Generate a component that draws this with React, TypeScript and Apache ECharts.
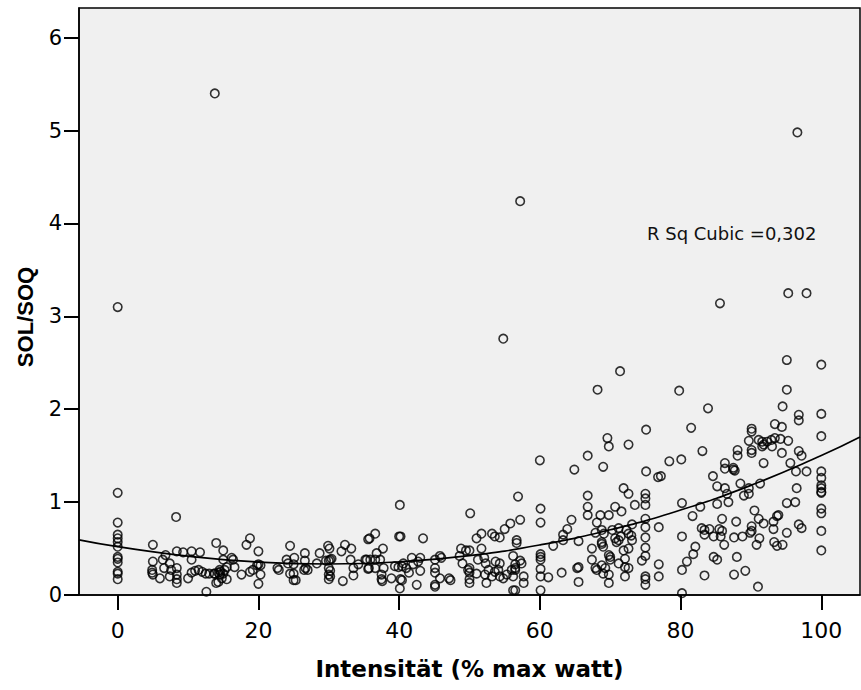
import React, { useEffect, useRef } from "react";
import * as echarts from "echarts";

// Scatter values: intensity (% max watt) and SOL/SOQ ratio
const intensity = [
  0, 0, 0, 0, 0, 0, 0, 0, 0, 0, 0, 0, 0,
  5.0, 8.3, 14.0, 12.6, 5.0, 4.9, 5.0, 4.9, 6.0, 6.4, 6.8, 6.6, 7.4, 8.4, 8.4, 8.4, 8.4, 8.4, 9.3, 10.5, 10.5, 11.7, 10.0, 10.5, 11.0, 11.5, 12.0, 12.5, 13.0, 13.7, 14.3, 14.6, 14.0, 7.6, 7.4,
  15.0, 15.0, 16.2, 16.4, 18.3, 18.8, 20.0, 20.0, 20.3, 19.8, 20.3, 20.0,
  13.8, 14.5, 14.5, 14.8, 15.0, 15.2, 15.5, 15.5, 16.6, 17.6, 18.8, 19.2, 14.3,
  22.7, 22.9, 24.0, 24.2, 24.5, 24.5, 25.0, 25.0, 25.3, 25.1, 25.0, 26.6, 26.6, 26.7, 27.0, 26.5, 28.3, 28.7, 29.9, 30.1, 29.6, 30.0, 30.2, 30.4, 30.0, 30.2, 30.0, 30.2, 30.0, 32.0, 31.8, 32.3, 33.2, 33.1, 33.5, 33.5, 34.2, 35.4, 35.6, 35.6,
  40.1, 50.1, 56.9,
  35.8, 36.6, 40.0, 40.2, 43.4, 37.7, 36.8,
  35.2, 35.9, 36.6, 37.3, 35.7, 36.6, 37.8, 37.5, 37.5, 37.6, 38.9,
  39.4, 39.9, 40.4, 40.6, 40.2, 40.4, 40.1,
  41.8, 42.0, 42.7, 43.0, 43.0, 41.4, 41.0, 42.5,
  45.1, 45.1, 45.1, 45.1, 45.1, 45.8, 46.0, 45.8, 47.1, 47.3,
  48.6, 48.8, 49.0, 49.5, 50.0, 50.0, 49.8, 50.0, 50.0, 50.0,
  51.0, 51.7, 53.2, 53.6, 54.3, 55.0, 55.8, 56.7, 57.2,
  51.7, 51.2, 52.1, 52.3, 53.7, 54.3,
  51.0, 52.2, 52.7, 53.2, 53.6, 54.1, 54.3, 54.8, 55.3, 56.0, 56.2, 56.5, 52.4, 56.2,
  60.1, 60.1, 64.5, 63.9, 63.3, 63.3, 65.5, 61.9, 56.7,
  60.1, 60.1, 60.1, 60.1, 60.1, 60.1, 61.2, 63.1, 65.3, 65.5, 65.5, 57.7, 57.7,
  56.2, 56.5, 56.5, 57.2, 57.4, 56.5,
  66.8, 66.8, 66.8, 68.6, 69.8, 71.6,
  68.1, 68.8, 69.1, 67.9, 70.3, 71.2, 71.5, 72.3, 72.6, 73.0,
  70.7, 71.9, 72.6, 73.5, 73.1,
  75.0, 75.0, 75.0, 75.0, 75.0, 75.0, 75.0, 75.0, 74.5, 75.0, 75.0, 75.0,
  76.9, 76.9, 76.9, 67.4,
  67.4, 67.9, 68.1, 68.8, 69.3, 69.0, 69.8, 70.0, 69.8, 69.8, 70.0,
  68.8, 69.0, 68.8,
  70.9, 70.7, 71.2, 71.9, 72.1, 72.6, 73.1, 72.6, 72.1, 71.2, 72.1,
  85.2, 86.3, 86.6, 88.5, 89.7, 89.7, 89.0, 91.3,
  80.2, 82.8, 85.2, 86.8, 81.7, 85.9, 87.9, 90.5, 90.1, 90.1, 89.9, 91.1, 91.8, 93.2, 93.9, 93.7, 93.2, 95.1, 96.5, 96.3, 96.8, 97.2, 95.1, 93.3, 93.7, 94.5, 91.2, 90.8,
  83.0, 83.4, 84.1, 83.4, 84.7, 85.5, 85.9, 85.7, 86.2, 87.6, 88.8,
  80.2, 82.1, 81.8, 80.9, 80.2, 80.2, 83.4, 84.7, 85.2, 88.0, 87.6, 89.2, 91.0,
  100, 100, 100, 100, 100, 100, 100, 100,
  54.8, 71.4, 68.2, 75.1, 69.6, 69.8, 72.6, 60.0, 66.8, 64.9, 69.0, 75.1, 76.8, 77.2, 78.4,
  95.1, 100, 79.8, 95.1, 83.9, 94.5, 96.8, 96.8, 100, 81.5, 93.4, 94.4, 90.1, 90.1, 89.7,
  91.1, 91.6, 91.8, 92.3, 92.9, 93.4, 94.2, 93.0, 91.6, 95.3, 100,
  88.1, 88.1, 90.1, 90.1, 83.1, 80.1, 86.3, 86.3, 87.5, 87.7, 87.5, 84.6, 91.8, 94.4, 95.6, 96.8, 97.2, 96.4, 97.9, 100, 100,
  13.8, 96.6, 57.2, 85.6, 95.3, 97.9,
];

const ratio = [
  3.10, 1.10, 0.78, 0.65, 0.61, 0.57, 0.52, 0.41, 0.39, 0.35, 0.25, 0.23, 0.17,
  0.54, 0.84, 0.56, 0.035, 0.36, 0.27, 0.22, 0.24, 0.18, 0.38, 0.43, 0.29, 0.34, 0.47, 0.29, 0.22, 0.17, 0.13, 0.46, 0.47, 0.38, 0.46, 0.18, 0.24, 0.26, 0.27, 0.25, 0.23, 0.23, 0.23, 0.24, 0.25, 0.13, 0.27, 0.20,
  0.48, 0.38, 0.40, 0.38, 0.54, 0.61, 0.47, 0.33, 0.32, 0.32, 0.22, 0.12,
  0.23, 0.27, 0.22, 0.18, 0.23, 0.27, 0.30, 0.17, 0.30, 0.22, 0.25, 0.27, 0.14,
  0.29, 0.27, 0.38, 0.34, 0.53, 0.23, 0.23, 0.16, 0.16, 0.40, 0.33, 0.45, 0.37, 0.29, 0.27, 0.27, 0.34, 0.45, 0.53, 0.50, 0.37, 0.37, 0.38, 0.39, 0.29, 0.26, 0.22, 0.20, 0.17, 0.15, 0.47, 0.54, 0.50, 0.38, 0.29, 0.21, 0.33, 0.38, 0.60, 0.28,
  0.97, 0.88, 1.06,
  0.61, 0.66, 0.63, 0.63, 0.61, 0.50, 0.45,
  0.38, 0.38, 0.38, 0.38, 0.29, 0.29, 0.29, 0.22, 0.17, 0.15, 0.18,
  0.31, 0.30, 0.31, 0.34, 0.17, 0.16, 0.07,
  0.40, 0.33, 0.36, 0.40, 0.26, 0.24, 0.29, 0.11,
  0.38, 0.29, 0.24, 0.11, 0.09, 0.42, 0.40, 0.18, 0.18, 0.16,
  0.42, 0.50, 0.34, 0.48, 0.48, 0.29, 0.27, 0.24, 0.17, 0.13,
  0.61, 0.66, 0.66, 0.63, 0.62, 0.71, 0.77, 0.56, 0.81,
  0.50, 0.38, 0.40, 0.34, 0.36, 0.34,
  0.23, 0.22, 0.27, 0.20, 0.25, 0.27, 0.20, 0.18, 0.22, 0.27, 0.20, 0.29, 0.13, 0.05,
  0.93, 0.78, 0.81, 0.71, 0.65, 0.59, 0.58, 0.53, 0.59,
  0.44, 0.41, 0.38, 0.28, 0.20, 0.05, 0.19, 0.24, 0.29, 0.30, 0.14, 0.20, 0.13,
  0.42, 0.33, 0.27, 0.37, 0.34, 0.05,
  1.07, 0.95, 0.86, 0.86, 0.86, 0.90,
  0.78, 0.70, 0.66, 0.67, 0.70, 0.72, 0.63, 0.70, 0.66, 0.64,
  0.95, 1.15, 1.09, 0.97, 0.76,
  1.09, 1.04, 0.97, 0.82, 0.73, 0.62, 0.51, 0.42, 0.37, 0.20, 0.17, 0.11,
  0.73, 0.33, 0.20, 0.50,
  0.38, 0.29, 0.27, 0.32, 0.29, 0.23, 0.43, 0.38, 0.22, 0.13, 0.41,
  0.55, 0.52, 0.57,
  0.57, 0.61, 0.59, 0.48, 0.39, 0.50, 0.59, 0.29, 0.30, 0.34, 0.20,
  1.17, 1.15, 1.09, 1.20, 1.15, 1.09, 1.07, 1.20,
  0.99, 0.95, 0.98, 1.00, 0.85, 0.82, 0.79, 0.91, 0.74, 0.69, 0.67, 0.82, 0.77, 0.79, 0.86, 0.85, 0.71, 0.99, 1.15, 1.00, 0.76, 0.72, 0.67, 0.57, 0.53, 0.54, 0.61, 0.54,
  0.72, 0.70, 0.71, 0.65, 0.63, 0.71, 0.69, 0.63, 0.54, 0.62, 0.63,
  0.63, 0.52, 0.44, 0.36, 0.27, 0.02, 0.21, 0.41, 0.38, 0.41, 0.22, 0.26, 0.09,
  1.18, 1.15, 1.11, 1.10, 0.93, 0.88, 0.69, 0.48,
  2.76, 2.41, 2.21, 1.78, 1.69, 1.60, 1.62, 1.45, 1.50, 1.35, 1.38, 1.33, 1.27, 1.28, 1.44,
  2.53, 2.48, 2.20, 2.21, 2.01, 2.03, 1.94, 1.88, 1.95, 1.80, 1.84, 1.81, 1.79, 1.76, 1.66,
  1.67, 1.65, 1.62, 1.65, 1.67, 1.69, 1.68, 1.60, 1.60, 1.66, 1.71,
  1.56, 1.50, 1.56, 1.53, 1.55, 1.46, 1.42, 1.36, 1.37, 1.34, 1.35, 1.28, 1.42, 1.53, 1.42, 1.55, 1.50, 1.33, 1.33, 1.33, 1.26,
  5.40, 4.98, 4.24, 3.14, 3.25, 3.25,
];

// Cubic fit curve
const fitX = [-5.5, 0, 10, 20, 30, 40, 50, 60, 70, 80, 90, 100, 105.5];
const fitY = [0.593, 0.52, 0.418, 0.355, 0.334, 0.357, 0.424, 0.539, 0.702, 0.915, 1.181, 1.501, 1.7];

const xTicks = [0, 20, 40, 60, 80, 100];
const yTicks = [0, 1, 2, 3, 4, 5, 6];
const xTitle = "Intensität (% max watt)";
const yTitle = "SOL/SOQ";
const fitLabel = "R Sq Cubic =0,302";

export default function App() {
  const ref = useRef<HTMLDivElement>(null);
  useEffect(() => {
    if (!ref.current) return;
    const chart = echarts.init(ref.current, undefined, { renderer: "svg" });
    const n = Math.min(intensity.length, ratio.length);
    const points: number[][] = [];
    for (let i = 0; i < n; i++) points.push([intensity[i], ratio[i]]);
    const fit = fitX.map((x, i) => [x, fitY[i]]);
    chart.setOption({
      animation: false,
      backgroundColor: "#ffffff",
      grid: {
        left: 79,
        right: 1,
        top: 8,
        bottom: 95,
        show: true,
        backgroundColor: "#f0f0f0",
        borderColor: "#000",
        borderWidth: 1.5,
      },
      xAxis: {
        type: "value",
        min: -5.5,
        max: 105.5,
        splitLine: { show: false },
        axisLine: { show: true, onZero: false, lineStyle: { color: "#000", width: 1.5 } },
        axisTick: { show: true, customValues: xTicks, length: 15, lineStyle: { color: "#000", width: 2 } },
        axisLabel: {
          customValues: xTicks,
          margin: 24,
          fontSize: 22,
          fontFamily: "DejaVu Sans",
          color: "#000",
        },
        name: xTitle,
        nameLocation: "middle",
        nameGap: 62,
        nameTextStyle: { fontFamily: "DejaVu Sans", fontWeight: "bold", fontSize: 23, color: "#000" },
      },
      yAxis: {
        type: "value",
        min: 0,
        max: 6.32,
        splitLine: { show: false },
        axisLine: { show: true, onZero: false, lineStyle: { color: "#000", width: 1.5 } },
        axisTick: { show: true, customValues: yTicks, length: 15, lineStyle: { color: "#000", width: 2 } },
        axisLabel: {
          customValues: yTicks,
          margin: 17,
          fontSize: 21,
          fontFamily: "DejaVu Sans",
          color: "#000",
        },
      },
      graphic: [
        {
          type: "text",
          x: 25,
          y: 317,
          rotation: Math.PI / 2,
          style: {
            text: yTitle,
            font: "bold 22px 'Liberation Sans', Arial, sans-serif",
            fill: "#000",
            textAlign: "center",
            textVerticalAlign: "middle",
          },
        },
        {
          type: "text",
          x: 647,
          y: 233,
          style: {
            text: fitLabel,
            font: "18px 'DejaVu Sans', sans-serif",
            fill: "#111",
            textAlign: "left",
            textVerticalAlign: "middle",
          },
        },
      ],
      series: [
        {
          type: "line",
          data: fit,
          smooth: true,
          symbol: "none",
          lineStyle: { color: "#000", width: 1.7 },
          z: 2,
        },
        {
          type: "scatter",
          data: points,
          symbol: "circle",
          symbolSize: 8.5,
          itemStyle: { color: "rgba(0,0,0,0)", borderColor: "#000", borderWidth: 1.6 },
          z: 3,
        },
      ],
    });
    return () => chart.dispose();
  }, []);
  return (
    <div
      ref={ref}
      style={{ position: "fixed", left: 0, top: 0, width: 861, height: 690, background: "#fff" }}
    />
  );
}
